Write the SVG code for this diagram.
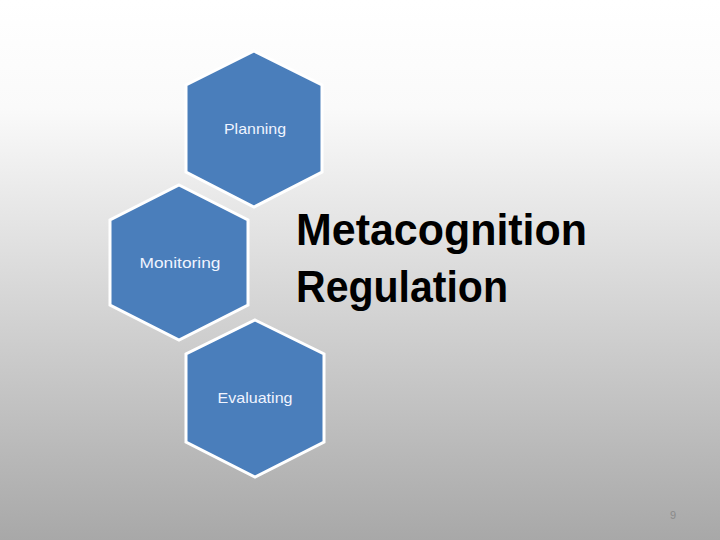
<svg xmlns="http://www.w3.org/2000/svg" width="720" height="540" viewBox="0 0 720 540">
<defs>
<linearGradient id="bg" x1="0" y1="0" x2="0" y2="1">
<stop offset="0" stop-color="#ffffff"/>
<stop offset="0.2" stop-color="#fafafa"/>
<stop offset="1" stop-color="#a8a8a8"/>
</linearGradient>
</defs>
<style>
.hex{fill:#4a7ebb;stroke:#ffffff;stroke-width:3;stroke-linejoin:miter}
.lbl{font-family:"Liberation Sans",Arial,sans-serif;font-size:15px;fill:#f0f4ff;text-anchor:middle}
.big{font-family:"Liberation Sans",Arial,sans-serif;font-size:44px;font-weight:bold;fill:#000000}
.pg{font-family:"Liberation Sans",Arial,sans-serif;font-size:11px;fill:#8a8a8a;text-anchor:middle}
</style>
<rect x="0" y="0" width="720" height="540" fill="url(#bg)"/>
<g id="connectors"></g>
<g id="planning">
<polygon class="hex" points="254,51 322,85 322,172 254,207 186,172 186,85"/>
<text class="lbl" x="255" y="134" textLength="62" lengthAdjust="spacingAndGlyphs">Planning</text>
</g>
<g id="monitoring">
<polygon class="hex" points="179,185 248,220 248,305 179,340 110,305 110,220"/>
<text class="lbl" x="180" y="268" textLength="81" lengthAdjust="spacingAndGlyphs">Monitoring</text>
</g>
<g id="evaluating">
<polygon class="hex" points="255,320 324,354 324,442 255,477 186,442 186,354"/>
<text class="lbl" x="255" y="403" textLength="75" lengthAdjust="spacingAndGlyphs">Evaluating</text>
</g>
<g id="title">
<text class="big" x="296" y="245" textLength="291" lengthAdjust="spacingAndGlyphs">Metacognition</text>
<text class="big" x="296" y="302" textLength="212" lengthAdjust="spacingAndGlyphs">Regulation</text>
</g>
<text class="pg" x="673" y="519">9</text>
</svg>
